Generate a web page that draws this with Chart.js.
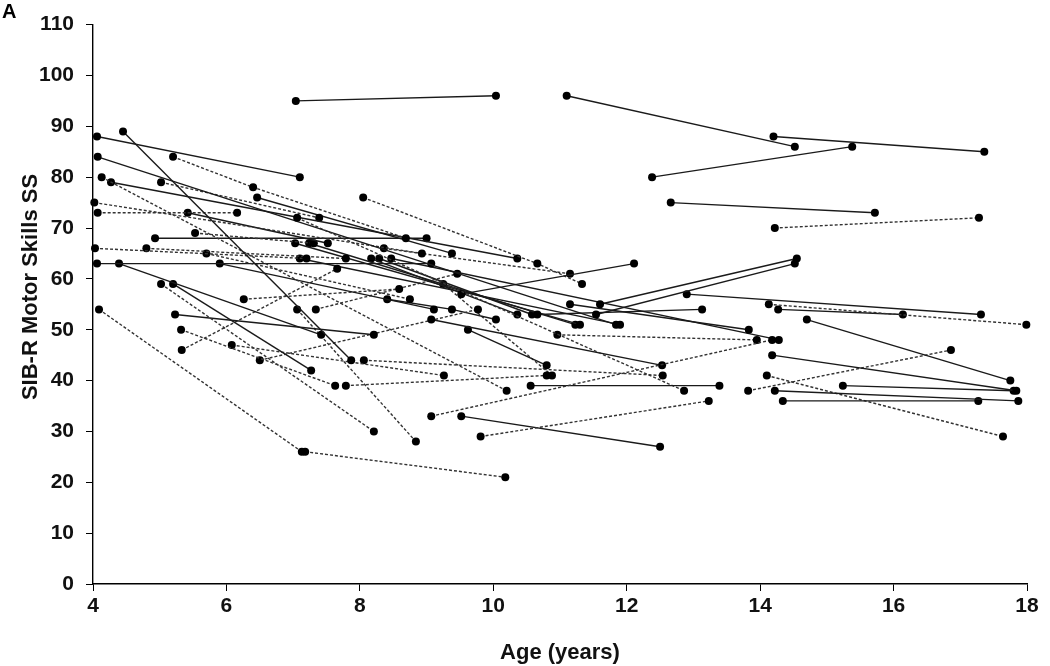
<!DOCTYPE html>
<html>
<head>
<meta charset="utf-8">
<script src="https://cdn.jsdelivr.net/npm/chart.js@4"></script>
<style>
  html, body { margin: 0; padding: 0; background: #fff; }
  #wrap { width: 1050px; height: 666px; }
</style>
</head>
<body>
<div id="wrap"><canvas id="motorChart" width="1050" height="666"></canvas></div>
<script>
// one entry per child: ages at each visit, SIB-R scores at each visit, line style
const ages = [
  [7.04, 10.04], [11.1, 14.52], [14.2, 17.36], [12.38, 15.38], [12.66, 15.72],
  [14.22, 17.28], [4.06, 7.1], [4.45, 7.87], [4.09, 7.13], [7.18, 10.18],
  [9.07, 14.18], [9.81, 13.23], [9.52, 12.5], [10.56, 13.39], [4.13, 10.2],
  [7.06, 12.86], [11.6, 14.55], [11.54, 14.52], [12.9, 17.31], [14.13, 17.99],
  [14.27, 16.14], [14.7, 17.75], [14.18, 17.84], [15.24, 17.8], [14.22, 17.87],
  [14.34, 17.27], [14.1, 17.64], [13.82, 16.86], [9.07, 12.53], [10.66, 13.13],
  [11.15, 13.83], [10.96, 13.95], [9.52, 12.11], [5.2, 6.4, 8.69], [8.05, 10.66, 11.33],
  [4.07, 11.84], [4.27, 10.36], [5.02, 7.39], [6.46, 9.38], [4.02, 8.93],
  [4.07, 6.16], [5.42, 7.52], [5.53, 7.31], [4.93, 9.0], [4.03, 7.2],
  [4.8, 7.79], [5.7, 8.75], [4.06, 9.07], [4.39, 7.42], [5.9, 9.11],
  [5.02, 8.21], [5.2, 7.27], [6.26, 8.59], [5.23, 8.21], [5.32, 7.63],
  [6.08, 9.26], [5.33, 7.66], [6.5, 9.77], [7.03, 11.3], [7.24, 11.23],
  [7.1, 11.9], [8.36, 11.15], [8.17, 10.36], [8.29, 10.58], [8.47, 14.28],
  [7.34, 9.46], [7.06, 8.84], [8.41, 9.38, 10.04], [9.62, 10.8], [8.06, 12.54],
  [7.79, 10.8], [9.25, 10.88]
];
const scores = [
  [95, 96], [96, 86], [88, 85], [80, 86], [75, 73],
  [70, 72], [88, 80], [89, 44], [54, 26], [26, 21],
  [33, 48], [29, 36], [33, 27], [39, 39], [80, 38],
  [72, 38], [55, 64], [53, 63], [57, 53], [55, 51],
  [54, 53], [52, 40], [45, 38], [39, 38], [38, 36],
  [36, 36], [41, 29], [38, 46], [52, 43], [53, 54],
  [55, 50], [49, 48], [57, 63], [84, 78, 68], [76, 63, 59],
  [84, 51], [79, 64], [79, 72], [76, 65], [75, 65],
  [73, 73], [73, 67], [69, 67], [68, 68], [66, 64],
  [66, 64], [65, 56], [63, 63], [63, 49], [63, 54],
  [59, 30], [59, 42], [56, 58], [53, 49], [50, 39],
  [47, 41], [46, 62], [44, 54], [67, 51], [67, 51],
  [64, 51], [66, 61], [64, 53], [64, 53], [64, 48],
  [54, 61], [54, 28], [56, 54, 52], [50, 43], [44, 41],
  [39, 41], [59, 41]
];
// 1 = dotted/dashed connector, 0 = solid
const dashed = [
  0, 0, 0, 0, 0, 1, 0, 0, 1, 1,
  1, 1, 0, 0, 1, 1, 0, 0, 0, 1,
  0, 0, 0, 0, 0, 0, 1, 1, 0, 0,
  0, 1, 0, 1, 1, 0, 0, 1, 0, 1,
  1, 0, 1, 0, 1, 1, 1, 0, 0, 0,
  1, 0, 1, 0, 1, 1, 1, 1, 0, 0,
  0, 1, 0, 0, 0, 1, 1, 0, 0, 1,
  1, 1
];
const xTicks = [4, 6, 8, 10, 12, 14, 16, 18];
const yTicks = [0, 10, 20, 30, 40, 50, 60, 70, 80, 90, 100, 110];
const yTitle = 'SIB-R Motor Skills SS';

const FONT = "'Liberation Sans', Arial, sans-serif";

const datasets = ages.map((a, i) => ({
  data: a.map((x, j) => ({ x: x, y: scores[i][j] })),
  showLine: true,
  borderColor: dashed[i] ? '#333' : '#1a1a1a',
  borderWidth: 1.4,
  borderDash: dashed[i] ? [3, 2] : [],
  pointRadius: 4,
  pointBackgroundColor: '#000',
  pointBorderWidth: 0,
  clip: false
}));

// panel letter and the y title (sits a bit above the plot centre in the original)
const extraText = {
  id: 'extraText',
  afterDraw(chart) {
    const ctx = chart.ctx;
    ctx.save();
    ctx.fillStyle = '#000';
    ctx.font = "bold 20px " + FONT;
    ctx.textBaseline = 'top';
    ctx.fillText('A', 2, 2);
    ctx.translate(31, 287);
    ctx.rotate(-Math.PI / 2);
    ctx.font = "bold 22px " + FONT;
    ctx.fillStyle = '#111';
    ctx.textAlign = 'center';
    ctx.textBaseline = 'middle';
    ctx.fillText(yTitle, 0, 0);
    ctx.restore();
  }
};

new Chart(document.getElementById('motorChart'), {
  type: 'scatter',
  data: { datasets: datasets },
  plugins: [extraText],
  options: {
    responsive: false,
    animation: false,
    layout: { padding: { top: 21, right: 23, left: 0, bottom: 0 } },
    plugins: { legend: { display: false }, tooltip: { enabled: false } },
    scales: {
      x: {
        type: 'linear',
        min: 4, max: 18,
        afterBuildTicks: (scale) => { scale.ticks = xTicks.map(v => ({ value: v })); },
        afterFit: (scale) => { scale.height = 82; },
        border: { color: '#000', width: 1.4 },
        grid: { drawOnChartArea: false, drawTicks: true, tickLength: 7, color: '#000' },
        ticks: { color: '#111', padding: 3, font: { family: FONT, size: 21, weight: 'bold' } },
        title: {
          display: true, text: 'Age (years)', color: '#111',
          font: { family: FONT, size: 22, weight: 'bold' },
          padding: { top: 6, bottom: 0 }
        }
      },
      y: {
        type: 'linear',
        min: 0, max: 110,
        afterBuildTicks: (scale) => { scale.ticks = yTicks.map(v => ({ value: v })); },
        afterFit: (scale) => { scale.width = 93; },
        border: { color: '#000', width: 1.4 },
        grid: { drawOnChartArea: false, drawTicks: true, tickLength: 7, color: '#000' },
        ticks: { color: '#111', padding: 12, font: { family: FONT, size: 21, weight: 'bold' } },
        title: { display: false }
      }
    }
  }
});
</script>
</body>
</html>
